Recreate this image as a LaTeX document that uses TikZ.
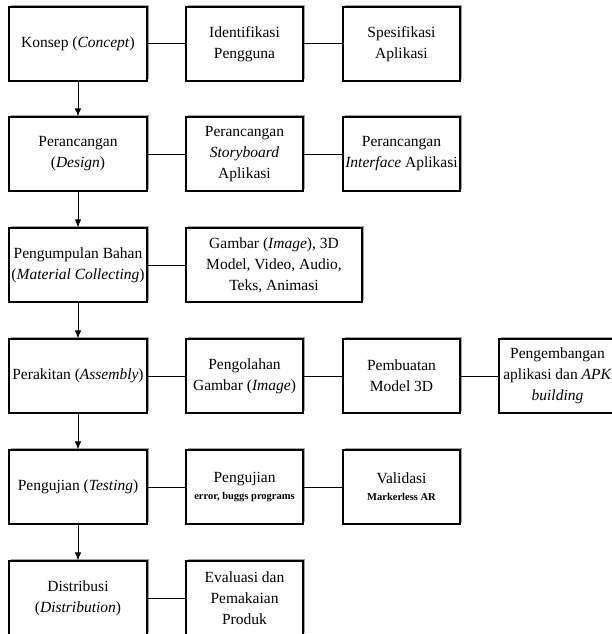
\documentclass[tikz,border=0pt]{standalone}
\usepackage{fontspec}
\setmainfont{Liberation Serif}
\usetikzlibrary{arrows.meta,shadows}

\begin{document}
\begin{tikzpicture}[x=1pt,y=-1pt,
  box/.style={draw=black, line width=1.1pt, fill=white, align=center,
    minimum height=74pt, inner sep=1pt,
    font=\fontsize{15.5}{21}\selectfont,
    drop shadow={shadow xshift=2pt, shadow yshift=2pt, fill=black!60, opacity=0.6}},
  mainbox/.style={box, minimum width=138pt},
  subbox/.style={box, minimum width=117pt},
  link/.style={black, line width=1pt},
  flow/.style={black, line width=1pt, -{Latex[length=8pt,width=6.5pt]}}]

\useasboundingbox (0,0) rectangle (612,634);

%%%%main column
\node[mainbox] (konsep) at (78,44) {Konsep (\textit{Concept})};
\node[mainbox] (design) at (78,154) {Perancangan\\(\textit{Design})};
\node[mainbox] (bahan) at (78,265) {Pengumpulan Bahan\\(\textit{Material Collecting})};
\node[mainbox] (rakit) at (78,376) {Perakitan (\textit{Assembly})};
\node[mainbox] (uji) at (78,487) {Pengujian (\textit{Testing})};
\node[mainbox] (distribusi) at (78,598) {Distribusi\\(\textit{Distribution})};

%%%%row 1
\node[subbox] (pengguna) at (244.5,44) {Identifikasi\\Pengguna};
\node[subbox] (spesifikasi) at (401.5,44) {Spesifikasi\\Aplikasi};
%%%%row 2
\node[subbox] (storyboard) at (244.5,154) {Perancangan\\\textit{Storyboard}\\Aplikasi};
\node[subbox] (interface) at (401.5,154) {Perancangan\\\textit{Interface} Aplikasi};
%%%%row 3
\node[box, minimum width=176pt] (material) at (274,265) {Gambar (\textit{Image}), 3D\\Model, Video, Audio,\\Teks, Animasi};
%%%%row 4
\node[subbox] (olahgambar) at (244.5,376) {Pengolahan\\Gambar (\textit{Image})};
\node[subbox] (model) at (401.5,376) {Pembuatan\\Model 3D};
\node[subbox] (apk) at (557.5,376) {Pengembangan\\aplikasi dan \textit{APK}\\\textit{building}};
%%%%row 5
\node[subbox] (bugs) at (244.5,487) {Pengujian\\[-4pt]{\fontsize{10.5}{12}\selectfont\bfseries error, buggs programs}};
\node[subbox] (validasi) at (401.5,487) {Validasi\\[-4pt]{\fontsize{10.5}{12}\selectfont\bfseries Markerless AR}};
%%%%row 6
\node[subbox] (evaluasi) at (244.5,598) {Evaluasi dan\\Pemakaian\\Produk};

%%%%arrows
\draw[flow] (konsep) -- (design);
\draw[flow] (design) -- (bahan);
\draw[flow] (bahan) -- (rakit);
\draw[flow] (rakit) -- (uji);
\draw[flow] (uji) -- (distribusi);

%%%%lines
\draw[link] (konsep) -- (pengguna);
\draw[link] (pengguna) -- (spesifikasi);
\draw[link] (design) -- (storyboard);
\draw[link] (storyboard) -- (interface);
\draw[link] (bahan.east) -- (material.west);
\draw[link] (rakit) -- (olahgambar);
\draw[link] (olahgambar) -- (model);
\draw[link] (model) -- (apk);
\draw[link] (uji) -- (bugs);
\draw[link] (bugs) -- (validasi);
\draw[link] (distribusi) -- (evaluasi);

\end{tikzpicture}
\end{document}
